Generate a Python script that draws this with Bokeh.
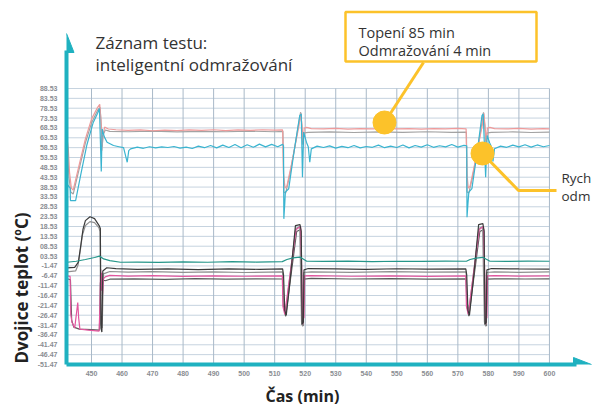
import math
from bokeh.plotting import figure
from bokeh.models import FixedTicker, Label, PolyAnnotation, Title
from bokeh.embed import file_html
from bokeh.resources import INLINE

# ---------------- data ----------------
x_ticks = [450, 460, 470, 480, 490, 500, 510, 520, 530, 540, 550, 560, 570, 580, 590, 600]
y_ticks = [88.53, 83.53, 78.53, 73.53, 68.53, 63.53, 58.53, 53.53, 48.53, 43.53, 38.53,
           33.53, 28.53, 23.53, 18.53, 13.53, 8.53, 3.53, -1.47, -6.47, -11.47, -16.47,
           -21.47, -26.47, -31.47, -36.47, -41.47, -46.47, -51.47]
y_tick_labels = ["88.53", "83.53", "78.53", "73.53", "68.53", "63.53", "58.53", "53.53",
                 "48.53", "43.53", "38.53", "33.53", "28.53", "23.53", "18.53", "13.53",
                 "08.53", "03.53", "-1.47", "-6.47", "-11.47", "-16.47", "-21.47", "-26.47",
                 "-31.47", "-36.47", "-41.47", "-46.47", "-51.47"]

# upper group (time min, temperature C)
red_pts = [(442.0, 63), (442.4, 58), (442.8, 46), (443.4, 38), (444.0, 37), (446.0, 50),
           (448.0, 63), (450.0, 73), (452.0, 79), (452.7, 80.5), (453.1, 72), (453.4, 57),
           (453.7, 64), (454.3, 69), (455.5, 68), (458, 67.6), (462, 67.3), (466, 67.5),
           (470, 67.1), (474, 67.4), (478, 67.2), (482, 67.5), (486, 67.3), (490, 67.6),
           (494, 67.2), (498, 67.5), (502, 67.3), (506, 67.6), (510, 67.4), (512.6, 67.5),
           (512.9, 45), (513.4, 38), (514.0, 39), (515.5, 50), (517.0, 62), (518.0, 70),
           (518.6, 76), (519.0, 68), (519.3, 62), (519.7, 68.5), (520.5, 68.8), (522, 68.2),
           (526, 68.0), (530, 68.3), (534, 67.9), (538, 68.2), (542, 68.0), (546, 68.3),
           (550, 68.0), (554, 68.2), (558, 67.9), (562, 68.2), (566, 68.0), (570, 68.3),
           (572.7, 68.1), (573.0, 45), (573.4, 38), (574.0, 39), (575.5, 50), (577.0, 62),
           (578.0, 70), (578.5, 76), (579.0, 68), (579.3, 62), (579.7, 68.5), (580.5, 68.8),
           (582, 68.2), (586, 68.0), (590, 68.3), (594, 67.9), (598, 68.2), (600, 68.1)]

gray_u_pts = [(442.0, 60), (442.6, 44), (443.2, 36), (444.0, 35), (446.0, 48), (448.0, 61),
              (450.0, 71), (452.0, 77.5), (452.8, 79), (453.2, 70), (453.5, 59), (453.8, 65),
              (454.5, 67.5), (456, 66.8), (462, 66.6), (470, 66.9), (478, 66.5), (486, 66.8),
              (494, 66.6), (502, 66.9), (510, 66.6), (512.7, 66.8), (513.0, 36), (513.6, 35.5),
              (515, 45), (516.5, 58), (518.0, 72), (518.5, 76.5), (518.9, 70), (519.2, 60),
              (519.6, 66), (521, 66.3), (528, 66.5), (536, 66.2), (544, 66.5), (552, 66.3),
              (560, 66.6), (568, 66.3), (572.8, 66.4), (573.0, 36), (573.6, 35.5), (575, 45),
              (576.5, 58), (578.0, 72), (578.4, 76.5), (578.8, 70), (579.2, 60), (579.6, 66),
              (581, 66.3), (588, 66.5), (594, 66.2), (600, 66.4)]

cyan_pts = [(442.0, 40), (443.0, 38), (443.1, 31.7), (444.8, 31.7), (446.5, 45), (448.5, 60),
            (450.5, 71), (452.0, 76), (452.6, 78.4), (453.2, 46.4), (453.5, 68), (454.2, 64),
            (455.1, 61.3), (457.2, 59.6), (459, 59), (460.5, 58.5), (461.7, 51.1), (462.2, 57),
            (462.8, 57.9), (465, 58.8), (467, 58.2), (469, 59.0), (471, 58.4), (473, 58.9),
            (475, 58.6), (477, 59.1), (479, 58.3), (481, 58.8), (483, 58.1), (485, 59.3),
            (487, 58.5), (489, 59.6), (491, 58.4), (493, 59.8), (495, 58.6), (497, 60.1),
            (499, 58.5), (501, 60.0), (503, 58.7), (505, 60.3), (507, 58.9), (509, 60.2),
            (511, 59.0), (512.6, 60.2), (512.9, 59.5), (513.0, 22.4), (513.3, 30), (513.5, 36),
            (514.6, 37.7), (516.3, 56), (518.2, 74.8), (518.7, 75.7), (519.1, 43.5),
            (519.5, 66.4), (520.4, 61.3), (521.0, 59), (521.5, 51.1), (522.0, 57.9),
            (523.9, 59.3), (526, 58.6), (528, 59.4), (530, 58.3), (532, 59.2), (534, 58.5),
            (536, 59.6), (538, 58.4), (540, 59.1), (542, 58.7), (544, 59.8), (546, 58.5),
            (548, 59.3), (550, 58.6), (552, 59.9), (554, 58.4), (556, 59.6), (558, 58.8),
            (560, 60.0), (562, 58.7), (564, 59.5), (566, 58.9), (568, 60.1), (570, 58.8),
            (572, 59.7), (572.9, 59.5), (573.0, 23.2), (573.3, 30), (573.6, 36), (574.6, 37.7),
            (576.3, 56), (577.9, 74.8), (578.3, 75.7), (579.1, 43.5), (579.6, 64.7),
            (580.4, 61), (581.0, 59), (581.5, 51.5), (582.0, 58), (584, 59.3), (586, 58.7),
            (588, 59.8), (590, 58.9), (592, 60.0), (594, 58.8), (596, 59.9), (598, 59.0),
            (600, 59.6)]

# lower group
teal_pts = [(442, 0.4), (445, 0.9), (448, 1.8), (451, 2.8), (452.6, 3.5), (454.0, 2.1),
            (456, 1.2), (459.5, 0.4), (465, 0.5), (472, 0.3), (480, 0.6), (488, 0.4),
            (496, 0.7), (504, 0.5), (512.5, 0.7), (514, 1.8), (516, 2.6), (518.3, 3.0),
            (519.2, 2.2), (520.5, 0.9), (526, 0.8), (534, 1.0), (542, 0.7), (550, 0.9),
            (558, 0.8), (566, 1.0), (572.8, 0.9), (574, 1.8), (576, 2.5), (578.2, 2.9),
            (579.2, 2.0), (580.5, 0.9), (586, 0.8), (593, 1.0), (600, 0.9)]

dark_pts = [(442, -2.5), (444.5, -2.2), (445.7, 0.5), (446.5, 9), (447.2, 17), (448.0, 21.5),
            (449.5, 23.5), (451.0, 22.5), (452.5, 19), (452.9, 17.5), (453.1, -33),
            (453.4, -35), (453.7, -4), (455, -2.4), (458, -2.8), (465, -3.2), (475, -3.0),
            (485, -3.3), (495, -3.0), (505, -3.2), (512.6, -3.0), (512.9, -6), (513.3, -24),
            (513.8, -26.5), (515.3, -5), (516.8, 19), (518.3, 19.5), (518.7, 16), (519.0, -31),
            (519.4, -30), (519.6, -3.5), (521, -2.8), (530, -3.0), (540, -3.2), (550, -2.9),
            (560, -3.1), (572.6, -3.0), (572.9, -6), (573.3, -24), (573.8, -26.5),
            (575.3, -5), (576.8, 19.5), (578.2, 20), (578.6, 16), (578.9, -31), (579.3, -30),
            (579.5, -3.5), (581, -2.8), (590, -3.0), (600, -3.1)]

gray_l_pts = [(442, -4.5), (444.8, -4), (445.6, -1), (446.3, 6), (447.0, 14), (448.0, 19),
              (449.5, 21), (451.0, 20.5), (452.4, 18), (452.8, 16), (453.0, -31), (453.5, -33),
              (453.9, -5.5), (456, -4.3), (462, -4.6), (470, -4.4), (480, -4.7), (490, -4.5),
              (500, -4.8), (512.6, -4.5), (512.9, -20), (513.6, -24.5), (516.9, 17.5),
              (518.2, 18.5), (518.8, -30), (519.2, -32), (519.5, -4.8), (522, -4.5),
              (535, -4.7), (548, -4.4), (560, -4.6), (572.7, -4.5), (573.0, -20),
              (573.6, -24.5), (576.9, 17.5), (578.1, 18.5), (578.7, -30), (579.1, -32),
              (579.4, -4.8), (582, -4.5), (590, -4.7), (600, -4.5)]

mag_pts = [(442, -6.5), (443.0, -6.8), (443.2, -26), (443.6, -30), (444.5, -33), (445.5, -20),
           (445.8, -28), (446.2, -33.5), (449, -34), (452.5, -34.5), (452.8, -20), (453.0, -3),
           (453.2, -14), (453.4, -5), (453.6, -16), (453.9, -8), (454.5, -7), (456, -6.3),
           (462, -6.6), (470, -6.4), (480, -6.8), (490, -6.5), (500, -6.7), (512.5, -6.5),
           (512.7, -22), (513.3, -26), (517.0, 17), (518.5, 18.5), (518.9, -6), (519.2, -31),
           (519.4, -20), (519.6, -28), (519.8, -6.5), (522, -6.4), (535, -6.7), (548, -6.5),
           (560, -6.8), (572.6, -6.5), (572.8, -22), (573.4, -26), (577.0, 17), (578.4, 18.5),
           (578.8, -6), (579.1, -31), (579.3, -20), (579.5, -28), (579.7, -6.5), (582, -6.4),
           (590, -6.6), (600, -6.5)]

dark2_pts = [(442, -8), (443.1, -8.5), (443.5, -29), (444.2, -32.5), (446, -33.5), (450, -33.8),
             (452.6, -34), (452.9, -10), (453.4, -8.5), (454.5, -9), (456, -8.2), (464, -8.0),
             (474, -8.3), (484, -7.9), (494, -8.2), (504, -8.0), (512.6, -8.1), (512.9, -22),
             (513.6, -27), (517.2, 16), (518.5, 17), (518.9, -31), (519.3, -32), (519.6, -8.2),
             (522, -7.8), (535, -8.1), (548, -7.9), (560, -8.2), (572.7, -8.0), (573.0, -22),
             (573.6, -27), (577.2, 16), (578.5, 17), (578.9, -31), (579.3, -32), (579.6, -8.2),
             (582, -8), (592, -8.1), (600, -8)]

# ---------------- layout helpers (canvas pixel -> data) ----------------
def T(sx):
    return 450 + (sx - 91) / 3.053

def V(sy):
    return 88.53 - (sy - 88) / 1.9714

W, H = 592, 410
FL, FB = 66, 364          # frame left / bottom in canvas px
X0, X1 = T(FL), T(W)
Y0, Y1 = V(FB), V(0)

TEAL = "#1fb1c0"
YEL = "#fcc22a"
TICK_C = "#8a8d92"
TXT = "#333333"

p = figure(width=W, height=H, x_range=(X0, X1), y_range=(Y0, Y1),
           output_backend="svg", toolbar_location=None,
           min_border_left=FL, min_border_right=0, min_border_top=0,
           min_border_bottom=H - FB)
p.outline_line_color = None
p.xgrid.visible = False
p.ygrid.visible = False
p.background_fill_color = "white"

for ax in (p.xaxis[0], p.yaxis[0]):
    ax.axis_line_color = TEAL
    ax.axis_line_width = 4
    ax.major_tick_line_color = None
    ax.minor_tick_line_color = None
    ax.major_tick_out = 0
    ax.major_tick_in = 0
    ax.major_label_text_font = "Liberation Sans"
    ax.major_label_text_font_style = "bold"
    ax.major_label_text_font_size = "7px"
    ax.major_label_text_color = TICK_C
p.xaxis.ticker = FixedTicker(ticks=x_ticks)
p.yaxis.ticker = FixedTicker(ticks=y_ticks)
p.yaxis.major_label_overrides = {v: s for v, s in zip(y_ticks, y_tick_labels)}
p.xaxis.major_label_standoff = 6
p.yaxis.major_label_standoff = 9
p.xaxis.bounds = (X0, T(576))
p.yaxis.bounds = (Y0 - 0.1, V(50))

p.add_layout(Title(text="Dvojice teplot (ºC)", align="left", offset=1, vertical_align="bottom",
                   standoff=4, text_font="Open Sans", text_font_size="17px",
                   text_font_style="bold", text_color="#222222"), "left")
p.add_layout(Title(text="Čas (min)", align="left", offset=199, vertical_align="bottom",
                   standoff=8, text_font="Open Sans", text_font_size="16px",
                   text_font_style="bold", text_color="#222222"), "below")

# grid
p.segment(x0=[X0] * len(y_ticks), y0=y_ticks, x1=[x_ticks[-1]] * len(y_ticks), y1=y_ticks,
          line_color="#c6d3df", line_width=1)
p.segment(x0=x_ticks, y0=[y_ticks[-1]] * len(x_ticks), x1=x_ticks, y1=[y_ticks[0]] * len(x_ticks),
          line_color="#a9b9c8", line_width=1)

def draw(pts, color, w=1.2, alpha=1.0):
    xs = [a for a, b in pts]
    ys = [b for a, b in pts]
    p.line(xs, ys, line_color=color, line_width=w, line_alpha=alpha)

draw(gray_u_pts, "#a3a3a3")
draw(red_pts, "#ee9b9b")
draw(cyan_pts, "#3ab4d0")
draw(dark2_pts, "#5c5c5c")
draw(gray_l_pts, "#909090")
draw(mag_pts, "#e3569e")
draw(dark_pts, "#3b3b3b")
draw(teal_pts, "#25968a")

# arrow heads
p.add_layout(PolyAnnotation(xs=[T(66), T(58.5), T(73.5)], ys=[V(33), V(52), V(52)],
                            fill_color=TEAL, fill_alpha=1, line_color=TEAL, line_alpha=1))
p.add_layout(PolyAnnotation(xs=[T(591), T(573), T(573)], ys=[V(364), V(357), V(371)],
                            fill_color=TEAL, fill_alpha=1, line_color=TEAL, line_alpha=1))

# callouts
p.quad(left=T(345), right=T(536), top=V(11.5), bottom=V(61), fill_color=None,
       line_color=YEL, line_width=2.5)
p.line([T(423), T(384)], [V(62), V(122)], line_color=YEL, line_width=3)
p.line([T(482), T(518), T(556)], [V(153), V(190), V(190)], line_color=YEL, line_width=3)
p.scatter([T(384), T(482)], [V(122), V(153)], size=23, fill_color=YEL, line_color=YEL)

def label(x, y, text, size, style="normal", align="left", baseline="alphabetic", color=TXT):
    p.add_layout(Label(x=x, y=y, text=text, text_font="Open Sans", text_font_size=size,
                       text_font_style=style, text_align=align, text_baseline=baseline,
                       text_color=color))

label(T(95), V(42), "Záznam testu:", "17px")
label(T(95), V(64), "inteligentní odmražování", "17px")
label(T(358), V(31.5), "Topení 85 min", "14.5px")
label(T(358), V(50), "Odmražování 4 min", "14.5px")
label(T(561), V(177), "Rych", "13.5px")
label(T(561), V(195), "odm", "13.5px")

open("out.html", "w").write(file_html(p, INLINE))
